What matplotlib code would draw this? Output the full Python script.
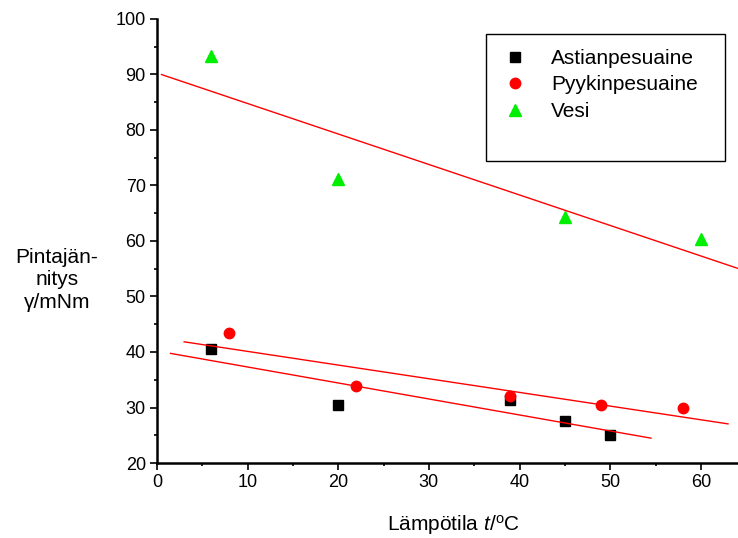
import numpy as np
import matplotlib
matplotlib.use("Agg")
import matplotlib.pyplot as plt
from matplotlib.patches import Rectangle

plt.rcParams['font.family'] = ['Liberation Sans', 'DejaVu Sans']
plt.rcParams['mathtext.fontset'] = 'custom'
plt.rcParams['mathtext.rm'] = 'Liberation Sans'
plt.rcParams['mathtext.it'] = 'Liberation Sans:italic'

# mittaukset
astia_t = [6, 20, 39, 45, 50]
astia_g = [40.5, 30.5, 31.3, 27.5, 25.0]
pyykki_t = [8, 22, 39, 49, 58]
pyykki_g = [43.4, 33.8, 32.0, 30.4, 29.9]
vesi_t = [6, 20, 45, 60]
vesi_g = [93.3, 71.2, 64.3, 60.3]

# sovitussuorien alue
astia_fit = [1.5, 54.5]
pyykki_fit = [3.0, 63.0]
vesi_fit = [0.5, 64.2]

fig = plt.figure(figsize=(7.38, 5.38), dpi=100)
ax = fig.add_axes([0.2127, 0.1394, 0.7873, 0.8253])

ax.plot(astia_t, astia_g, 's', color='black', ms=7, label='Astianpesuaine')
ax.plot(pyykki_t, pyykki_g, 'o', color='red', ms=7.5, label='Pyykinpesuaine')
ax.plot(vesi_t, vesi_g, '^', color='#00ee00', ms=8.5, label='Vesi')

for t, g, r in [(astia_t, astia_g, astia_fit), (pyykki_t, pyykki_g, pyykki_fit),
                (vesi_t, vesi_g, vesi_fit)]:
    k, b = np.polyfit(t, g, 1)
    xx = np.array(r)
    ax.plot(xx, k * xx + b, color='red', lw=1)

ax.set_xlim(0, 64.1)
ax.set_ylim(20, 100)
ax.set_xticks(range(0, 61, 10))
ax.set_xticks(range(5, 65, 10), minor=True)
ax.set_yticks(range(20, 101, 10))
ax.set_yticks(range(25, 100, 10), minor=True)
ax.spines['top'].set_visible(False)
ax.spines['right'].set_visible(False)
ax.spines['left'].set_linewidth(1.8)
ax.spines['bottom'].set_linewidth(1.8)
ax.tick_params(which='major', direction='out', length=5, width=1.2, labelsize=13, pad=3)
ax.tick_params(which='minor', direction='out', length=2.5, width=1.2)

ax.set_xlabel('Lämpötila $t$/$^{\\rm o}$C', fontsize=15)
ax.xaxis.label.set_va('center')
ax.xaxis.set_label_coords(0.511, -0.14)
fig.text(0.077, 0.4796, 'Pintajän-\nnitys\nγ/mNm', fontsize=15,
         ha='center', va='center', linespacing=1.25)

# selitelaatikko
fig.patches.append(Rectangle((486 / 738, 1 - 161 / 538), 239 / 738, 127 / 538,
                             transform=fig.transFigure, fill=False,
                             edgecolor='black', lw=1.0))
handles, labels = ax.get_legend_handles_labels()
ax.legend(handles, labels, loc='upper left', bbox_to_anchor=(505 / 738, 1 - 49 / 538),
          bbox_transform=fig.transFigure, fontsize=15, frameon=False,
          borderpad=0, borderaxespad=0, handletextpad=1.2, labelspacing=0.36,
          handlelength=1.0)

fig.savefig('out.png', dpi=100)
